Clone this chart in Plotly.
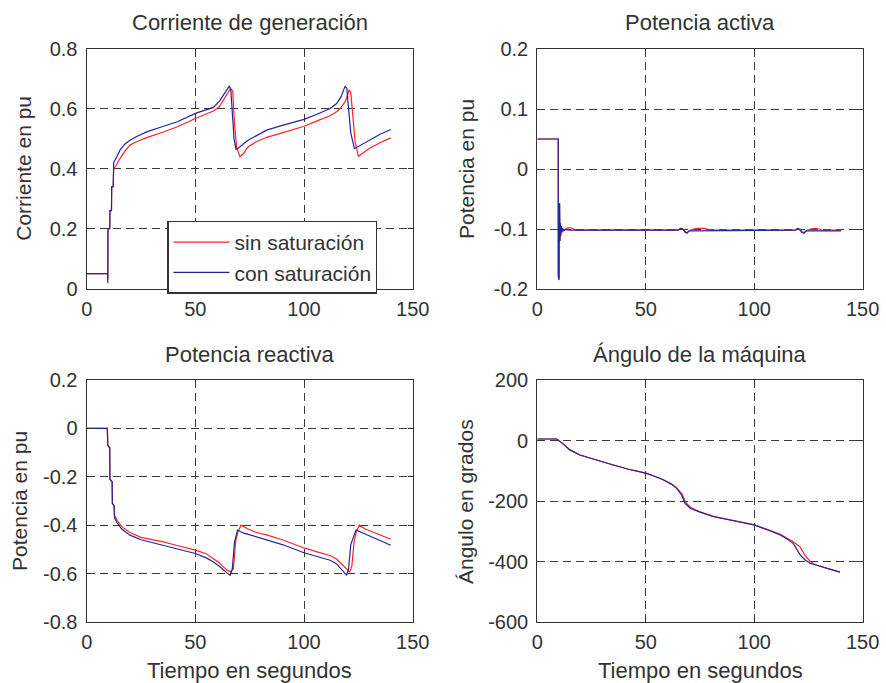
import plotly.graph_objects as go

# ---------------- data (time in s) ----------------
# Corriente de generación
t_i_sin = [0, 9.6, 9.7, 9.8, 10.6, 10.7, 11.4, 11.5, 12.2, 12.4, 13.5, 15.3, 17.5, 19.9, 23, 27.6,
           35, 42, 50, 55, 58.3, 61, 62.9, 64.5, 66.2, 67.2, 68.0, 69.0, 70.5, 72, 74.2, 78, 82.8,
           90, 100, 106, 112, 115, 117, 119, 120.8, 121.5, 122.5, 123.5, 125, 127, 130, 135, 139.9]
i_sin = [0.05, 0.05, 0.03, 0.2, 0.2, 0.26, 0.26, 0.34, 0.34, 0.40, 0.41, 0.434, 0.458, 0.479, 0.49, 0.504,
         0.522, 0.541, 0.568, 0.583, 0.593, 0.607, 0.629, 0.645, 0.668, 0.66, 0.55, 0.47, 0.44, 0.45, 0.473, 0.49, 0.505,
         0.52, 0.542, 0.56, 0.577, 0.59, 0.605, 0.625, 0.664, 0.655, 0.58, 0.49, 0.442, 0.452, 0.468, 0.487, 0.503]
t_i_con = [0, 9.6, 9.7, 9.8, 10.6, 10.7, 11.4, 11.5, 12.2, 12.4, 13.5, 15.3, 17.5, 19.9, 23, 27.6,
           35, 42, 50, 55, 58.3, 61, 62.9, 64.5, 65.6, 66.3, 67.0, 67.8, 68.7, 70, 74.2, 78, 82.8,
           90, 100, 106, 112, 115, 117, 118.9, 119.7, 120.5, 121.5, 123.2, 125, 130, 135, 139.9]
i_con = [0.05, 0.05, 0.018, 0.2, 0.2, 0.26, 0.26, 0.34, 0.34, 0.42, 0.435, 0.462, 0.482, 0.495, 0.508, 0.523,
         0.541, 0.558, 0.585, 0.598, 0.605, 0.625, 0.646, 0.662, 0.676, 0.665, 0.58, 0.5, 0.465, 0.47, 0.495, 0.51, 0.529,
         0.545, 0.565, 0.582, 0.601, 0.618, 0.64, 0.676, 0.668, 0.6, 0.52, 0.467, 0.474, 0.494, 0.515, 0.531]

# Potencia activa
t_p_sin = [0, 9.6, 9.65, 9.9, 10.05, 10.2, 10.4, 10.6, 10.8, 11.0, 11.3, 11.6, 12.0, 13.0, 14.0, 15.5, 17.0,
           18.0, 65, 66.0, 67.0, 68.0, 69.0, 70.0, 72, 74, 77, 79, 80, 119, 120, 121, 122, 123, 124, 126, 128, 130, 131, 140]
p_sin = [0.05, 0.05, -0.178, -0.182, -0.07, -0.075, -0.12, -0.092, -0.112, -0.096, -0.106, -0.099, -0.102, -0.1, -0.098, -0.098, -0.1,
         -0.102, -0.102, -0.099, -0.1, -0.104, -0.106, -0.103, -0.1, -0.099, -0.099, -0.101, -0.102, -0.102, -0.099, -0.1, -0.104, -0.106, -0.103, -0.1, -0.099, -0.1, -0.102, -0.102]
t_p_con = [0, 9.6, 9.65, 10.0, 10.1, 10.3, 10.4, 10.6, 10.8, 11.0, 11.3, 11.6, 12.0, 13.0, 15.0,
           65, 66.0, 67.0, 68.0, 69.0, 70.0, 119, 120, 121, 122, 123, 124, 140]
p_con = [0.05, 0.05, -0.18, -0.185, -0.06, -0.057, -0.12, -0.09, -0.11, -0.095, -0.105, -0.098, -0.103, -0.101, -0.102,
         -0.102, -0.099, -0.1, -0.105, -0.107, -0.103, -0.102, -0.099, -0.101, -0.106, -0.107, -0.103, -0.103]

# Potencia reactiva
t_q_sin = [0, 9.5, 9.7, 10.6, 10.7, 11.7, 11.8, 12.6, 12.8, 14, 16, 19.9, 25, 35.3, 42, 50, 55, 58.3, 61, 62.9,
           64.5, 66.3, 67.5, 68.5, 69.5, 71, 74, 78, 82.8, 90, 100, 106, 112, 115, 118, 121, 122, 123, 124,
           125.4, 128, 132, 136, 139.9]
q_sin = [0, 0, -0.07, -0.08, -0.21, -0.22, -0.31, -0.32, -0.36, -0.38, -0.405, -0.43, -0.45, -0.469, -0.485, -0.503, -0.518, -0.538, -0.555, -0.572,
         -0.585, -0.593, -0.58, -0.47, -0.43, -0.40, -0.415, -0.43, -0.44, -0.46, -0.494, -0.51, -0.525, -0.54, -0.565, -0.593, -0.57, -0.47, -0.43,
         -0.40, -0.415, -0.43, -0.445, -0.458]
t_q_con = [0, 9.5, 9.7, 10.6, 10.7, 11.7, 11.8, 12.6, 12.8, 14, 16, 19.9, 25, 35.3, 42, 50, 55, 58.3, 61, 62.9,
           64.5, 66, 67, 68, 69.4, 72, 78, 82.8, 90, 100, 106, 112, 115, 118, 119.6, 120.5, 121.5, 123.9,
           128, 132, 136, 139.9]
q_con = [0, 0, -0.07, -0.08, -0.21, -0.22, -0.31, -0.32, -0.37, -0.39, -0.415, -0.441, -0.46, -0.483, -0.5, -0.517, -0.535, -0.552, -0.57, -0.586,
         -0.597, -0.607, -0.58, -0.47, -0.42, -0.432, -0.448, -0.462, -0.48, -0.514, -0.53, -0.545, -0.56, -0.59, -0.607, -0.58, -0.48, -0.42,
         -0.437, -0.452, -0.468, -0.483]

# Ángulo de la máquina
t_a_sin = [0, 8.9, 12, 15, 19.6, 27, 35, 42, 50, 54, 58, 62, 64.2, 66.8, 68.4, 70.8, 75, 81.3, 90, 100,
           106, 112, 115, 118, 121.2, 123.5, 125.8, 128, 130, 135, 139.5]
a_sin = [5, 5, -12, -31, -48, -65, -81, -95, -108, -118, -130, -145, -156, -178, -205, -222, -236, -251, -265, -279,
         -294, -310, -322, -335, -352, -380, -400, -410, -415, -425, -435]
t_a_con = [0, 8.9, 12, 15, 19.6, 27, 35, 42, 50, 54, 58, 62, 64.2, 66.5, 68.1, 70.5, 75, 81.3, 90, 100,
           106, 112, 115, 118, 121.2, 123.5, 125.8, 130, 135, 139.5]
a_con = [5, 5, -12, -31, -48, -65, -81, -95, -108, -118, -130, -145, -158, -180, -208, -224, -237, -252, -265, -279,
         -295, -312, -325, -340, -378, -395, -406, -415, -425, -435]

# ---------------- axis labels ----------------
x_ticks = [0, 50, 100, 150]
x_ticktext = ["0", "50", "100", "150"]
yi_ticks = [0, 0.2, 0.4, 0.6, 0.8]
yi_ticktext = ["0", "0.2", "0.4", "0.6", "0.8"]
yp_ticks = [-0.2, -0.1, 0, 0.1, 0.2]
yp_ticktext = ["-0.2", "-0.1", "0", "0.1", "0.2"]
yq_ticks = [-0.8, -0.6, -0.4, -0.2, 0, 0.2]
yq_ticktext = ["-0.8", "-0.6", "-0.4", "-0.2", "0", "0.2"]
ya_ticks = [-600, -400, -200, 0, 200]
ya_ticktext = ["-600", "-400", "-200", "0", "200"]

titles = ["Corriente de generación", "Potencia activa", "Potencia reactiva", "Ángulo de la máquina"]
ylabels = ["Corriente en pu", "Potencia en pu", "Potencia en pu", "Ángulo en grados"]
xlabel = "Tiempo en segundos"
names = ["sin saturación", "con saturación"]

RED = "#ff2424"
BLUE = "#24249c"
INK = "#333333"
FONT = "Liberation Sans, Arial, sans-serif"

W, H = 886, 683
# plot-area boxes in pixels: (left, right, top, bottom)
boxes = [(86.7, 412.7, 49, 288.5), (537.4, 862.6, 49, 289),
         (86.7, 412.7, 380, 622), (537.4, 862.6, 380, 622)]

fig = go.Figure()

series = [
    (t_i_sin, i_sin, t_i_con, i_con),
    (t_p_sin, p_sin, t_p_con, p_con),
    (t_q_sin, q_sin, t_q_con, q_con),
    (t_a_sin, a_sin, t_a_con, a_con),
]
for k, (ts, vs, tc, vc) in enumerate(series):
    xa = "x" if k == 0 else f"x{k+1}"
    ya = "y" if k == 0 else f"y{k+1}"
    fig.add_trace(go.Scatter(x=ts, y=vs, mode="lines", name=names[0], showlegend=(k == 0),
                             line=dict(color=RED, width=1.2), xaxis=xa, yaxis=ya))
    fig.add_trace(go.Scatter(x=tc, y=vc, mode="lines", name=names[1], showlegend=(k == 0),
                             line=dict(color=BLUE, width=1.2), xaxis=xa, yaxis=ya))

yspecs = [
    ([0, 0.8], yi_ticks, yi_ticktext),
    ([-0.2, 0.2], yp_ticks, yp_ticktext),
    ([-0.8, 0.2], yq_ticks, yq_ticktext),
    ([-600, 200], ya_ticks, ya_ticktext),
]

common = dict(showline=True, mirror="ticks", linecolor=INK, linewidth=1.4,
              ticks="inside", ticklen=5, tickcolor=INK, tickwidth=1,
              showgrid=True, gridcolor="#3a3a3a", gridwidth=1, griddash="8px,5px",
              zeroline=False, automargin=False,
              tickfont=dict(family=FONT, size=20, color=INK))

layout = {}
for k, (l, r, t, b) in enumerate(boxes):
    xkey = "xaxis" if k == 0 else f"xaxis{k+1}"
    ykey = "yaxis" if k == 0 else f"yaxis{k+1}"
    xa = "x" if k == 0 else f"x{k+1}"
    ya = "y" if k == 0 else f"y{k+1}"
    yr, yt, ytt = yspecs[k]
    layout[xkey] = dict(domain=[l / W, r / W], anchor=ya, range=[0, 150],
                        tickvals=x_ticks, ticktext=x_ticktext, ticklabelstandoff=2, **common)
    layout[ykey] = dict(domain=[1 - b / H, 1 - t / H], anchor=xa, range=yr,
                        tickvals=yt, ticktext=ytt, ticklabelstandoff=4, **common)

annotations = []
title_y = [23, 23, 354, 354]
ylab_x = [24, 466, 19, 465]
for k, (l, r, t, b) in enumerate(boxes):
    annotations.append(dict(text=titles[k], x=(l + r) / 2 / W, y=1 - title_y[k] / H,
                            xref="paper", yref="paper", showarrow=False,
                            xanchor="center", yanchor="middle",
                            font=dict(family=FONT, size=22, color=INK)))
    annotations.append(dict(text=ylabels[k], x=ylab_x[k] / W, y=1 - (t + b) / 2 / H,
                            xref="paper", yref="paper", showarrow=False, textangle=-90,
                            xanchor="center", yanchor="middle",
                            font=dict(family=FONT, size=21, color=INK)))
for k in (2, 3):
    l, r, t, b = boxes[k]
    annotations.append(dict(text=xlabel, x=(l + r) / 2 / W, y=1 - 670 / H,
                            xref="paper", yref="paper", showarrow=False,
                            xanchor="center", yanchor="middle",
                            font=dict(family=FONT, size=22, color=INK)))

fig.update_layout(
    width=W, height=H, margin=dict(l=0, r=0, t=0, b=0, autoexpand=False),
    paper_bgcolor="white", plot_bgcolor="white",
    annotations=annotations,
    legend=dict(x=167.3 / W, y=1 - 220.7 / H, xanchor="left", yanchor="top",
                bgcolor="white", bordercolor=INK, borderwidth=1.2,
                font=dict(family=FONT, size=21, color=INK), tracegroupgap=0,
                itemwidth=56),
    **layout,
)

fig.write_html("out.html")
